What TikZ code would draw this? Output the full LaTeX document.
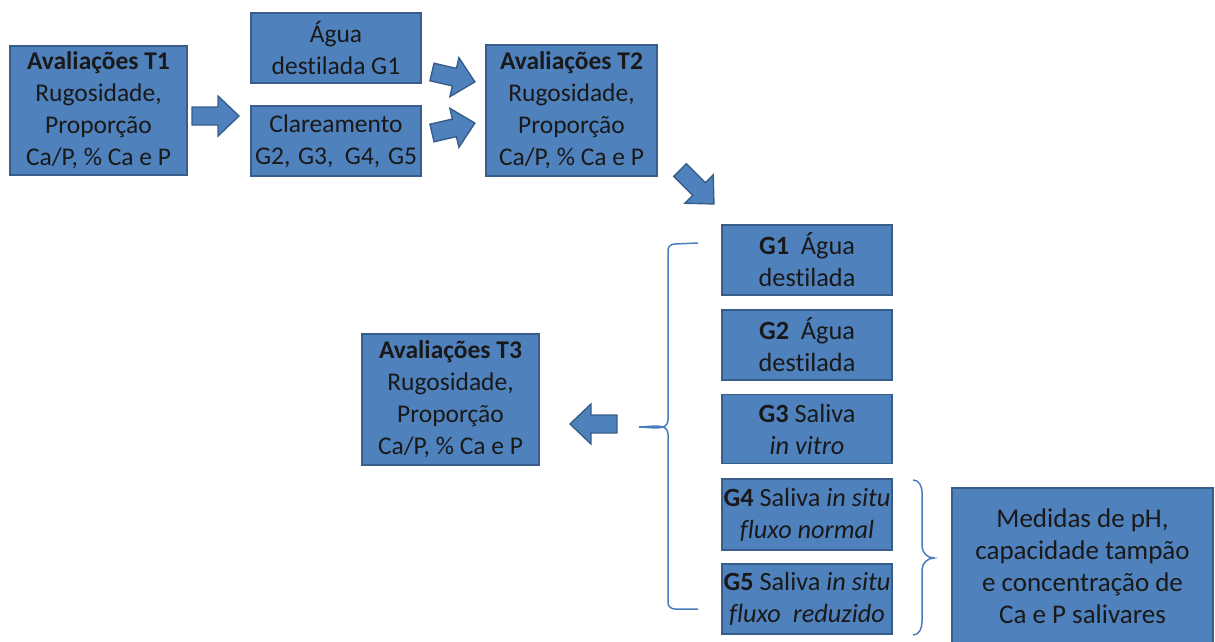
\documentclass[tikz,border=0pt]{standalone}
\usepackage{fontspec}
\setmainfont{Carlito}[RawFeature={-liga}]
\definecolor{boxfill}{HTML}{4F81BD}
\definecolor{boxline}{HTML}{385D8A}
\definecolor{bracecol}{HTML}{4A7EBB}
\newcommand\myblockarrow[4]{%
  \begin{scope}[shift={(#1,#2)},rotate=#3]
    \draw[barrow] (0,-9) -- ({#4-21},-9) -- ({#4-21},-20) -- (#4,0) -- ({#4-21},20) -- ({#4-21},9) -- (0,9) -- cycle;
  \end{scope}}
\begin{document}
\begin{tikzpicture}[x=1pt,y=-1pt,
  box/.style={draw=boxline, fill=boxfill, line width=1.8pt, inner sep=0pt, align=center,
    font=\fontsize{25.5}{32}\selectfont, text=black!90},
  big/.style={font=\fontsize{26.3}{32}\selectfont},
  barrow/.style={draw=boxline, fill=boxfill, line width=1.4pt, line join=miter},
  bracket/.style={draw=bracecol, line width=1.5pt}]
\useasboundingbox (0,0) rectangle (1215,641);
\clip (0,0) rectangle (1215,641);

\node[box, minimum width=177pt, minimum height=129pt] (t1) at (98.5,110.5)
  {\textbf{Avaliações T1}\\Rugosidade,\\Proporção\\Ca/P, \% Ca e P};
\node[box, minimum width=170pt, minimum height=70pt] (a1) at (336,48)
  {Água\\destilada G1};
\node[box, minimum width=170pt, minimum height=70pt] (a2) at (336,141)
  {Clareamento\\G2,\hspace{0.3em}G3,\hspace{0.45em}G4,\hspace{0.3em}G5};
\node[box, minimum width=171pt, minimum height=131pt] (t2) at (571.5,110.5)
  {\textbf{Avaliações T2}\\Rugosidade,\\Proporção\\Ca/P, \% Ca e P};

\node[box, big, minimum width=170pt, minimum height=70pt] (g1) at (807,260)
  {\textbf{G1}~ Água\\destilada};
\node[box, big, minimum width=170pt, minimum height=70pt] (g2) at (807,345)
  {\textbf{G2}~ Água\\destilada};
\node[box, big, minimum width=170pt, minimum height=69pt] (g3) at (807,429)
  {\textbf{G3} Saliva\\\textit{in vitro}};
\node[box, big, minimum width=170pt, minimum height=71pt] (g4) at (807,514.5)
  {\textbf{G4} Saliva \textit{in situ}\\\textit{fluxo normal}};
\node[box, big, minimum width=170pt, minimum height=70pt] (g5) at (807,599)
  {\textbf{G5} Saliva \textit{in situ}\\\textit{fluxo~ reduzido}};

\node[box, minimum width=177pt, minimum height=131pt] (t3) at (450.5,399.5)
  {\textbf{Avaliações T3}\\Rugosidade,\\Proporção\\Ca/P, \% Ca e P};
\node[box, big, font=\fontsize{27}{32}\selectfont, minimum width=261pt, minimum height=157pt] (m) at (1082.5,566.5)
  {Medidas de pH,\\capacidade tampão\\e concentração de\\Ca e P salivares};

% block arrows
\myblockarrow{192}{116}{0}{47}
\myblockarrow{432}{72}{-13}{44}
\myblockarrow{432}{133}{13}{44}
\myblockarrow{680}{170}{-45}{48}
\myblockarrow{617}{424}{180}{47}

% brackets
\coordinate (lb1) at (698,243);
\coordinate (lb2) at (698,609);
\draw[bracket] (lb1) -- (675,244) to[out=180,in=90] (668,250) -- (668,420)
  to[out=-90,in=0] (639,427) to[out=0,in=90] (668,434) -- (668,603)
  to[out=-90,in=180] (675,609) -- (lb2);
\coordinate (rb1) at (913,480);
\coordinate (rb2) at (913,635);
\draw[bracket] (rb1) to[out=0,in=90] (922,492) -- (922,546)
  to[out=-90,in=180] (934,558) to[out=180,in=90] (922,570) -- (922,622)
  to[out=-90,in=0] (rb2);
\end{tikzpicture}
\end{document}
